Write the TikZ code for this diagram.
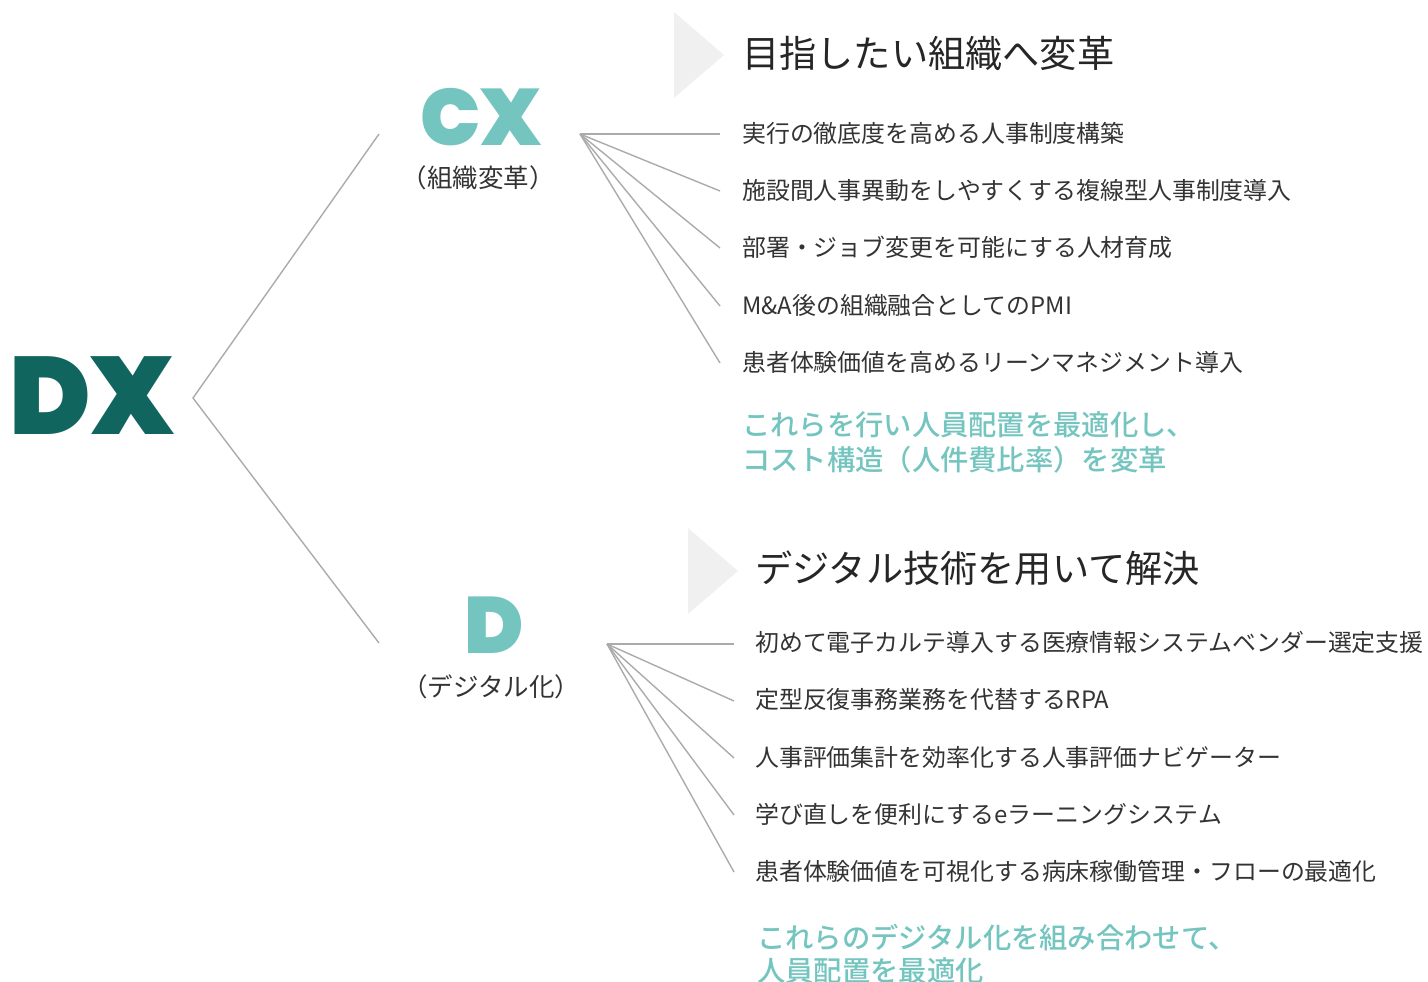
\documentclass[tikz,border=0pt]{standalone}
\usepackage{fontspec}
\newfontfamily\jp{Noto Sans CJK JP}[BoldFont=* Medium]
\newfontfamily\logo{Poppins}[UprightFont=* Black]
\definecolor{dxteal}{HTML}{10665F}
\definecolor{lightteal}{HTML}{74C5BF}
\definecolor{linegray}{HTML}{ABABAB}
\definecolor{trigray}{HTML}{F0F0F0}
\definecolor{textgray}{HTML}{333333}
\begin{document}
\begin{tikzpicture}[x=1pt, y=-1pt,
    logobig/.style={inner sep=0, text depth=0, anchor=base, text=dxteal, font=\logo\fontsize{110}{110}\selectfont},
    logosmall/.style={inner sep=0, text depth=0, anchor=base, text=lightteal, font=\logo\fontsize{80}{80}\selectfont},
    sublabel/.style={inner sep=0, anchor=base, text=textgray, font=\jp\fontsize{25.5}{30}\selectfont},
    heading/.style={inner sep=0, anchor=base west, text=black!85, font=\jp\fontsize{37.2}{44}\selectfont},
    item/.style={inner sep=0, anchor=base west, text=textgray, font=\jp\fontsize{23.9}{28}\selectfont},
    summary/.style={inner sep=0, anchor=base west, text=lightteal, font=\jp\bfseries\fontsize{28.3}{33}\selectfont},
    branch/.style={draw=linegray, line width=1.4pt}]
    \useasboundingbox (0,0) rectangle (1428,982);

    % ロゴ
    \node[logobig] (dx) at (92,434) {DX};
    \node[logosmall] (cx) at (481,145) {CX};
    \node[sublabel] (cxlabel) at (478,187) {（組織変革）};
    \node[logosmall] (d) at (494,653) {D};
    \node[sublabel] (dlabel) at (491,696) {（デジタル化）};

    % 三角形
    \fill[trigray] (674,12) -- (724,55) -- (674,98) -- cycle;
    \fill[trigray] (688,528) -- (738,571) -- (688,614) -- cycle;

    % 見出し
    \node[heading] (cxhead) at (742,67) {目指したい組織へ変革};
    \node[heading] (dhead) at (755,582) {デジタル技術を用いて解決};

    % CX の項目
    \node[item] (c1) at (742,142) {実行の徹底度を高める人事制度構築};
    \node[item] (c2) at (742,199) {施設間人事異動をしやすくする複線型人事制度導入};
    \node[item] (c3) at (742,256) {部署・ジョブ変更を可能にする人材育成};
    \node[item] (c4) at (742,314) {M\&A後の組織融合としてのPMI};
    \node[item] (c5) at (742,371) {患者体験価値を高めるリーンマネジメント導入};
    \node[summary] (csum1) at (742,435) {これらを行い人員配置を最適化し、};
    \node[summary] (csum2) at (742,470) {コスト構造（人件費比率）を変革};

    % D の項目
    \node[item] (d1) at (755,651) {初めて電子カルテ導入する医療情報システムベンダー選定支援};
    \node[item] (d2) at (755,708) {定型反復事務業務を代替するRPA};
    \node[item] (d3) at (755,766) {人事評価集計を効率化する人事評価ナビゲーター};
    \node[item] (d4) at (755,823) {学び直しを便利にするeラーニングシステム};
    \node[item] (d5) at (755,880) {患者体験価値を可視化する病床稼働管理・フローの最適化};
    \node[summary] (dsum1) at (757,948) {これらのデジタル化を組み合わせて、};
    \node[summary] (dsum2) at (757,981) {人員配置を最適化};

    % 枝の端点
    \coordinate (dxtip) at (193,398);
    \coordinate (cxend) at (379,134);
    \coordinate (dend) at (379,643);
    \coordinate (cxhub) at (580,134);
    \coordinate (dhub) at (607,644);
    \coordinate (c1l) at (720,134);
    \coordinate (c2l) at (720,191);
    \coordinate (c3l) at (720,248);
    \coordinate (c4l) at (720,306);
    \coordinate (c5l) at (720,363);
    \coordinate (d1l) at (734,644);
    \coordinate (d2l) at (734,701);
    \coordinate (d3l) at (734,758);
    \coordinate (d4l) at (734,815);
    \coordinate (d5l) at (734,872);

    % エッジ
    \draw[branch] (cxend) -- (dxtip) -- (dend);
    \draw[branch] (cxhub) -- (c1l);
    \draw[branch] (cxhub) -- (c2l);
    \draw[branch] (cxhub) -- (c3l);
    \draw[branch] (cxhub) -- (c4l);
    \draw[branch] (cxhub) -- (c5l);
    \draw[branch] (dhub) -- (d1l);
    \draw[branch] (dhub) -- (d2l);
    \draw[branch] (dhub) -- (d3l);
    \draw[branch] (dhub) -- (d4l);
    \draw[branch] (dhub) -- (d5l);
\end{tikzpicture}
\end{document}
